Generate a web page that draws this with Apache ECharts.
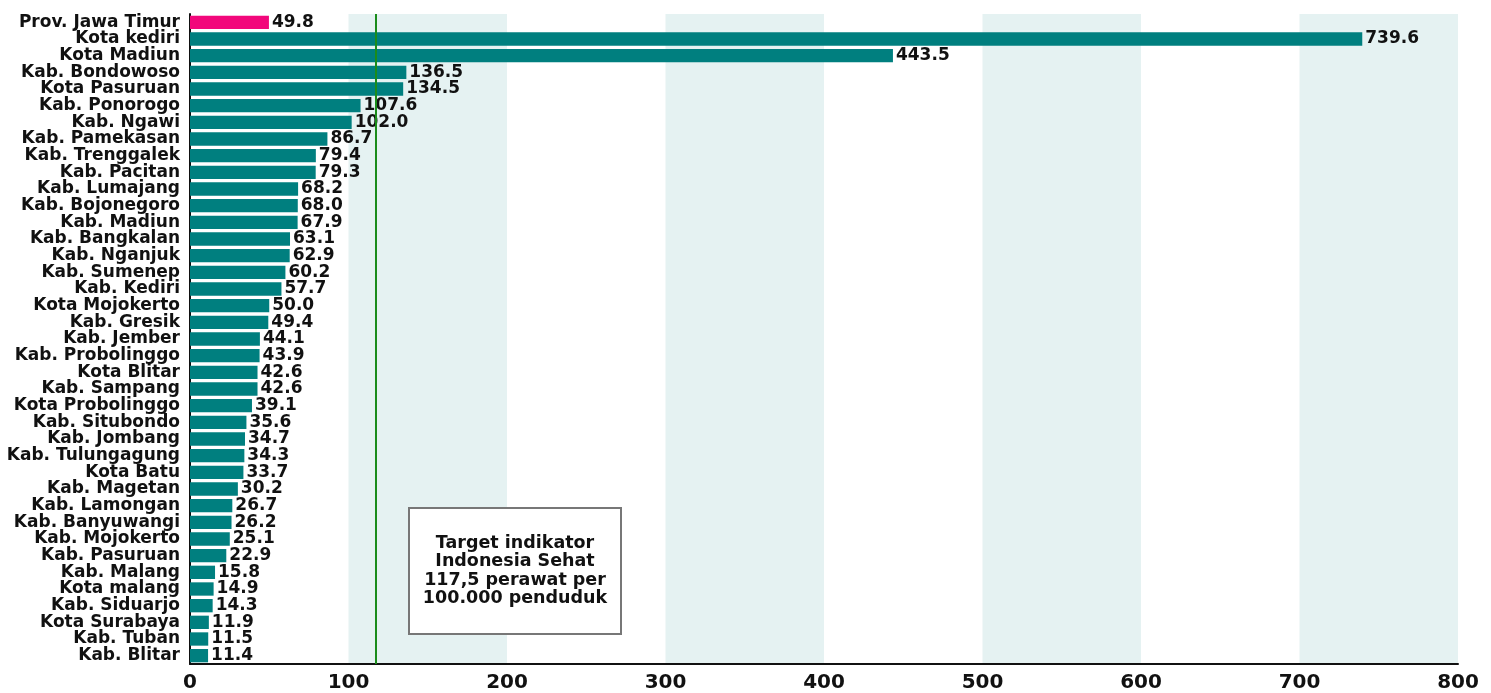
<!DOCTYPE html>
<html>
<head>
<meta charset="utf-8">
<title>Rasio perawat per 100.000 penduduk</title>
<script src="https://cdn.jsdelivr.net/npm/echarts@6/dist/echarts.min.js"></script>
<style>
  html, body { margin: 0; padding: 0; background: #ffffff; }
  #chart { width: 1491px; height: 693px; }
</style>
</head>
<body>
<div id="chart"></div>
<script>
// Wilayah (top to bottom)
const regions = [
  'Prov. Jawa Timur', 'Kota kediri', 'Kota Madiun', 'Kab. Bondowoso', 'Kota Pasuruan',
  'Kab. Ponorogo', 'Kab. Ngawi', 'Kab. Pamekasan', 'Kab. Trenggalek', 'Kab. Pacitan',
  'Kab. Lumajang', 'Kab. Bojonegoro', 'Kab. Madiun', 'Kab. Bangkalan', 'Kab. Nganjuk',
  'Kab. Sumenep', 'Kab. Kediri', 'Kota Mojokerto', 'Kab. Gresik', 'Kab. Jember',
  'Kab. Probolinggo', 'Kota Blitar', 'Kab. Sampang', 'Kota Probolinggo', 'Kab. Situbondo',
  'Kab. Jombang', 'Kab. Tulungagung', 'Kota Batu', 'Kab. Magetan', 'Kab. Lamongan',
  'Kab. Banyuwangi', 'Kab. Mojokerto', 'Kab. Pasuruan', 'Kab. Malang', 'Kota malang',
  'Kab. Siduarjo', 'Kota Surabaya', 'Kab. Tuban', 'Kab. Blitar'
];

// Perawat per 100.000 penduduk
const ratios = [
  49.8, 739.6, 443.5, 136.5, 134.5,
  107.6, 102.0, 86.7, 79.4, 79.3,
  68.2, 68.0, 67.9, 63.1, 62.9,
  60.2, 57.7, 50.0, 49.4, 44.1,
  43.9, 42.6, 42.6, 39.1, 35.6,
  34.7, 34.3, 33.7, 30.2, 26.7,
  26.2, 25.1, 22.9, 15.8, 14.9,
  14.3, 11.9, 11.5, 11.4
];

// Target Indonesia Sehat
const targetValue = 117.5;
const targetNote = [
  'Target indikator',
  'Indonesia Sehat',
  '117,5 perawat per',
  '100.000 penduduk'
];

// X axis range
const xMin = 0;
const xMax = 800;
const xStep = 100;

const FONT = 'DejaVu Sans';
const TEAL = '#007f7f';
const PINK = '#f2077b';

const chart = echarts.init(document.getElementById('chart'));

chart.setOption({
  backgroundColor: '#ffffff',
  animation: false,
  grid: { left: 190, right: 33, top: 14, bottom: 27, containLabel: false },
  xAxis: {
    type: 'value',
    min: xMin,
    max: xMax,
    interval: xStep,
    axisLine: { show: true, lineStyle: { color: '#111', width: 2 } },
    axisTick: { show: false },
    splitLine: { show: false },
    splitArea: {
      show: true,
      areaStyle: { color: ['rgba(255,255,255,0)', '#e5f2f2'] }
    },
    axisLabel: {
      color: '#111',
      fontFamily: FONT,
      fontWeight: 'bold',
      fontSize: 20,
      margin: 9
    }
  },
  yAxis: {
    type: 'category',
    data: regions,
    inverse: true,
    axisLine: { show: true, lineStyle: { color: '#111', width: 2 } },
    axisTick: { show: false },
    axisLabel: {
      interval: 0,
      color: '#111',
      fontFamily: FONT,
      fontWeight: 'bold',
      fontSize: 17,
      margin: 10
    }
  },
  series: [{
    type: 'bar',
    data: ratios,
    barCategoryGap: '20%',
    itemStyle: {
      color: function (p) { return p.dataIndex === 0 ? PINK : TEAL; }
    },
    label: {
      show: true,
      position: 'right',
      distance: 3,
      color: '#111',
      fontFamily: FONT,
      fontWeight: 'bold',
      fontSize: 17,
      formatter: function (p) { return p.value.toFixed(1); }
    },
    markLine: {
      silent: true,
      symbol: ['none', 'none'],
      label: { show: false },
      lineStyle: { color: '#1b8c1b', width: 2, type: 'solid' },
      data: [{ xAxis: targetValue }]
    },
    z: 3
  }],
  graphic: [{
    type: 'group',
    left: 408,
    top: 507,
    z: 100,
    children: [{
      type: 'rect',
      z: 100,
      shape: { x: 0, y: 0, width: 212, height: 126 },
      style: { fill: '#ffffff', stroke: '#777777', lineWidth: 2 }
    }, {
      type: 'text',
      z: 101,
      x: 106,
      y: 63,
      style: {
        text: targetNote.join('\n'),
        fill: '#111',
        font: 'bold 17.5px "DejaVu Sans"',
        lineHeight: 18.5,
        align: 'center',
        verticalAlign: 'middle'
      }
    }]
  }]
});
</script>
</body>
</html>
